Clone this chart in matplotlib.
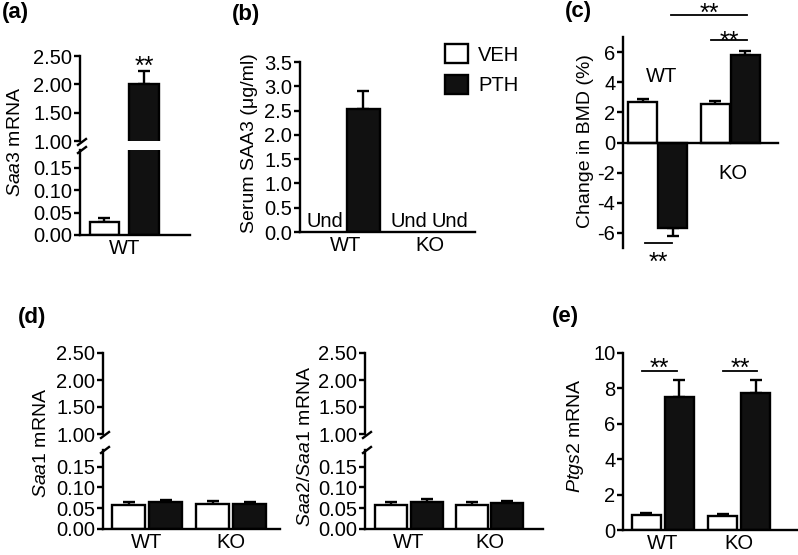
import numpy as np
import matplotlib
matplotlib.use("Agg")
import matplotlib.pyplot as plt
from matplotlib.lines import Line2D
from matplotlib.patches import Patch
from matplotlib.ticker import FormatStrFormatter

plt.rcParams['font.family'] = ['Liberation Sans', 'DejaVu Sans']
plt.rcParams['mathtext.fontset'] = 'custom'
plt.rcParams['mathtext.rm'] = 'Liberation Sans'
plt.rcParams['mathtext.it'] = 'Liberation Sans:italic'
plt.rcParams['axes.unicode_minus'] = False

# (a) Saa3 mRNA, WT only
a_groups = ['WT']
a_veh = [0.03]
a_veh_err = [0.007]
a_pth = [2.0]
a_pth_err = [0.23]

# (b) serum SAA3 (ug/ml); VEH and KO undetectable
b_groups = ['WT', 'KO']
b_pth_wt = 2.53
b_pth_wt_err = 0.38

# (c) change in BMD (%)
c_veh = [2.7, 2.55]
c_veh_err = [0.2, 0.2]
c_pth = [-5.7, 5.8]
c_pth_err = [0.5, 0.3]

# (d) Saa1 and Saa2/Saa1 mRNA
d_groups = ['WT', 'KO']
d1_veh = [0.058, 0.060]
d1_veh_err = [0.006, 0.007]
d1_pth = [0.065, 0.060]
d1_pth_err = [0.005, 0.005]
d2_veh = [0.058, 0.057]
d2_veh_err = [0.008, 0.008]
d2_pth = [0.065, 0.062]
d2_pth_err = [0.007, 0.006]

# (e) Ptgs2 mRNA
e_veh = [0.85, 0.78]
e_veh_err = [0.13, 0.12]
e_pth = [7.5, 7.75]
e_pth_err = [0.95, 0.75]

W, H = 798, 555
fig = plt.figure(figsize=(W / 100, H / 100), dpi=100)

TICK_FS = 14.5
LAB_FS = 14
STAR_FS = 18
LW = 1.7


def add_ax(l, t, r, b):
    return fig.add_axes([l / W, 1 - b / H, (r - l) / W, (b - t) / H])


def style(ax, bottom=True):
    for s in ['top', 'right']:
        ax.spines[s].set_visible(False)
    ax.spines['left'].set_linewidth(LW)
    ax.spines['bottom'].set_linewidth(LW)
    ax.spines['bottom'].set_visible(bottom)
    ax.tick_params(axis='y', direction='out', length=4, width=LW, labelsize=TICK_FS, pad=1.5)
    ax.tick_params(axis='x', length=0, labelsize=TICK_FS, pad=3)
    ax.patch.set_alpha(0)


def bars(ax, x, vals, errs, color, width, down=False):
    ax.bar(x, vals, width, color=color, edgecolor='black', linewidth=LW, zorder=2)
    errs = np.array(errs)
    if down:
        yerr = [errs, np.zeros_like(errs)]
    else:
        yerr = [np.zeros_like(errs), errs]
    ax.errorbar(x, vals, yerr=yerr, fmt='none', ecolor='black',
                elinewidth=LW, capsize=4, capthick=LW, zorder=1)


def slash(x, y):
    fig.add_artist(Line2D([(x - 4) / W, (x + 4) / W], [1 - (y + 3) / H, 1 - (y - 3) / H],
                          color='black', lw=LW))


def ylabel(x, y, s):
    fig.text(x / W, 1 - y / H, s, rotation=90, ha='center', va='center', fontsize=LAB_FS)


def panel(x, y, s):
    fig.text(x / W, 1 - y / H, s, ha='left', va='top', fontsize=16, fontweight='bold')


def broken(l, r, t_up, b_up, t_lo, b_lo, xlim, x_veh, x_pth, veh, veh_err, pth, pth_err,
           groups, width, xt):
    up = add_ax(l, t_up, r, b_up)
    lo = add_ax(l, t_lo, r, b_lo)
    for ax in (up, lo):
        bars(ax, x_veh, veh, veh_err, 'white', width)
        bars(ax, x_pth, pth, pth_err, '#111111', width)
        ax.set_xlim(*xlim)
    up.set_ylim(1.0, 2.5)
    up.set_yticks([1.0, 1.5, 2.0, 2.5])
    lo.set_ylim(0, 0.19)
    lo.set_yticks([0, 0.05, 0.10, 0.15])
    for ax in (up, lo):
        ax.yaxis.set_major_formatter(FormatStrFormatter('%.2f'))
    style(up, bottom=False)
    style(lo)
    up.set_xticks([])
    lo.set_xticks(xt)
    lo.set_xticklabels(groups)
    slash(l + 2, b_up + 1)
    slash(l + 2, t_lo)
    return up, lo


# ---- (a)
broken(80, 190, 56, 141, 150, 235, (-0.63, 2.2), [0], [1.01],
       a_veh, a_veh_err, a_pth, a_pth_err, a_groups, 0.77, [0.52])
fig.text(144 / W, 1 - 74 / H, '**', ha='center', va='baseline', fontsize=STAR_FS)
ylabel(16, 142, r'$\mathit{Saa3}$ mRNA')
panel(2, 2, '(a)')

# ---- (b)
axb = add_ax(300, 62, 475, 232)
xg = np.arange(2)
off = 0.208
bars(axb, [xg[0] + off], [b_pth_wt], [b_pth_wt_err], '#111111', 0.39)
axb.set_xlim(-0.55, 1.54)
axb.set_ylim(0, 3.5)
axb.set_yticks(np.arange(0, 3.51, 0.5))
axb.yaxis.set_major_formatter(FormatStrFormatter('%.1f'))
axb.set_xticks(xg)
axb.set_xticklabels(b_groups)
style(axb)
for xu in [xg[0] - off - 0.04, xg[1] - off - 0.04, xg[1] + off + 0.03]:
    axb.text(xu, 0.03, 'Und', ha='center', va='bottom', fontsize=TICK_FS)
ylabel(249, 143, 'Serum SAA3 (\u03bcg/ml)')
panel(232, 4, '(b)')
axb.legend(handles=[Patch(facecolor='white', edgecolor='black', lw=LW),
                    Patch(facecolor='#111111', edgecolor='black', lw=LW)],
           labels=['VEH', 'PTH'], loc='upper left', frameon=False,
           bbox_to_anchor=(445 / W, 1 - 44 / H), bbox_transform=fig.transFigure,
           fontsize=TICK_FS, handlelength=1.15, handleheight=1.1, handletextpad=0.5,
           borderpad=0, borderaxespad=0, labelspacing=0.5)

# ---- (c)
axc = add_ax(623, 37, 778, 248)
xg = np.arange(2)
off = 0.207
bars(axc, xg - off, c_veh, c_veh_err, 'white', 0.4)
axc.bar(xg + off, c_pth, 0.4, color='#111111', edgecolor='black', linewidth=LW, zorder=2)
for i in range(2):
    lo_e, hi_e = (c_pth_err[i], 0) if c_pth[i] < 0 else (0, c_pth_err[i])
    axc.errorbar([xg[i] + off], [c_pth[i]], yerr=[[lo_e], [hi_e]], fmt='none', ecolor='black',
                 elinewidth=LW, capsize=4, capthick=LW, zorder=1)
axc.set_xlim(-0.476, 1.66)
axc.set_ylim(-7, 7)
axc.set_yticks([-6, -4, -2, 0, 2, 4, 6])
style(axc)
axc.spines['bottom'].set_position(('data', 0))
axc.set_xticks([])
axc.text(0.06, 4.4, 'WT', ha='center', va='center', fontsize=TICK_FS)
axc.text(1.04, -2.05, 'KO', ha='center', va='center', fontsize=TICK_FS)
for (x0, x1, y, ty) in [(0.186, 1.234, 8.48, 8.08),
                        (0.738, 1.234, 6.82, 6.23),
                        (-0.172, 0.2, -6.69, -8.48)]:
    axc.plot([x0, x1], [y, y], color='black', lw=1.3, clip_on=False)
    axc.text((x0 + x1) / 2, ty, '**', ha='center', va='baseline', fontsize=STAR_FS,
             clip_on=False)
ylabel(586, 141, 'Change in BMD (%)')
panel(565, 1, '(c)')

# ---- (d)
broken(103, 280, 353, 434, 450, 529, (-0.524, 1.583), np.arange(2) - 0.22, np.arange(2) + 0.22,
       d1_veh, d1_veh_err, d1_pth, d1_pth_err, d_groups, 0.4, [0, 1])
ylabel(42, 443, r'$\mathit{Saa1}$ mRNA')
panel(18, 307, '(d)')

broken(365, 543, 353, 434, 450, 529, (-0.547, 1.665), np.arange(2) - 0.22, np.arange(2) + 0.22,
       d2_veh, d2_veh_err, d2_pth, d2_pth_err, d_groups, 0.4, [0, 1])
ylabel(306, 446, r'$\mathit{Saa2}$/$\mathit{Saa1}$ mRNA')

# ---- (e)
axe = add_ax(623, 353, 797, 530)
xg = np.arange(2)
off = 0.213
bars(axe, xg - off, e_veh, e_veh_err, 'white', 0.38)
bars(axe, xg + off, e_pth, e_pth_err, '#111111', 0.38)
axe.set_xlim(-0.52, 1.755)
axe.set_ylim(0, 10)
axe.set_yticks([0, 2, 4, 6, 8, 10])
axe.set_xticks(xg)
axe.set_xticklabels(d_groups)
style(axe)
for (x0, x1) in [(-0.27, 0.187), (0.787, 1.23)]:
    axe.plot([x0, x1], [8.98, 8.98], color='black', lw=1.3, clip_on=False)
    axe.text((x0 + x1) / 2, 8.70, '**', ha='center', va='baseline', fontsize=STAR_FS)
ylabel(575, 436, r'$\mathit{Ptgs2}$ mRNA')
panel(552, 306, '(e)')

fig.savefig('out.png', dpi=100)
